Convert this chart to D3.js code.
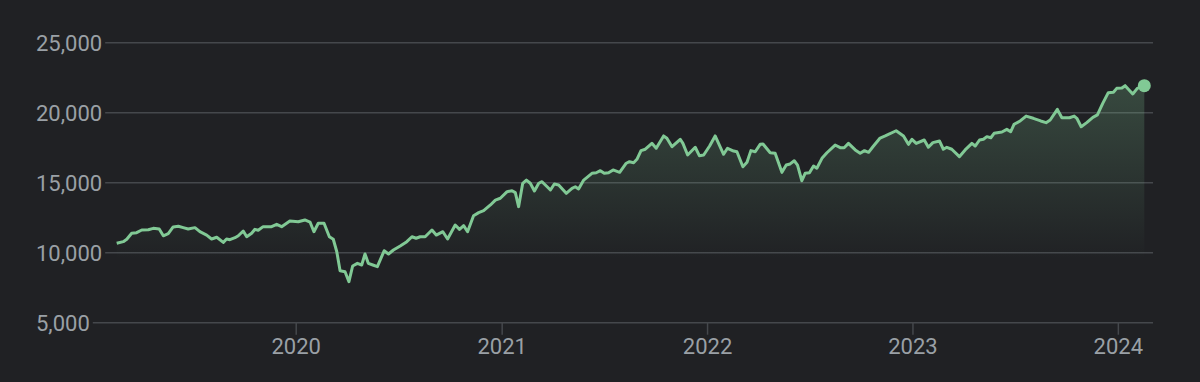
<!DOCTYPE html>
<html>
<head>
<meta charset="utf-8">
<script src="https://cdn.jsdelivr.net/npm/d3@7"></script>
<style>
  html, body { margin: 0; padding: 0; background: #202124; }
  svg { display: block; }
  text { font-family: Roboto, "Noto Sans", sans-serif; }
</style>
</head>
<body>
<div class="chart"></div>
<script>
// chart size
var width = 1200;
var height = 382;

// data: time as decimal year, index value
var years = [
  2019.126, 2019.158, 2019.175, 2019.199, 2019.223, 2019.248, 2019.280, 2019.304, 2019.333, 2019.353,
  2019.377, 2019.401, 2019.426, 2019.450, 2019.474, 2019.507, 2019.531, 2019.564, 2019.588, 2019.613,
  2019.645, 2019.661, 2019.677, 2019.702, 2019.718, 2019.742, 2019.759, 2019.783, 2019.799, 2019.815,
  2019.839, 2019.880, 2019.905, 2019.929, 2019.969, 2020.010, 2020.042, 2020.067, 2020.086, 2020.107,
  2020.135, 2020.161, 2020.180, 2020.197, 2020.213, 2020.237, 2020.256, 2020.274, 2020.297, 2020.318,
  2020.334, 2020.350, 2020.372, 2020.394, 2020.427, 2020.448, 2020.472, 2020.505, 2020.537, 2020.562,
  2020.582, 2020.602, 2020.626, 2020.659, 2020.680, 2020.712, 2020.735, 2020.772, 2020.793, 2020.813,
  2020.832, 2020.861, 2020.886, 2020.910, 2020.943, 2020.967, 2020.991, 2021.024, 2021.048, 2021.064,
  2021.080, 2021.100, 2021.118, 2021.137, 2021.157, 2021.178, 2021.194, 2021.219, 2021.235, 2021.254,
  2021.275, 2021.312, 2021.340, 2021.356, 2021.372, 2021.397, 2021.437, 2021.458, 2021.478, 2021.497,
  2021.518, 2021.540, 2021.572, 2021.604, 2021.620, 2021.640, 2021.656, 2021.676, 2021.697, 2021.729,
  2021.750, 2021.786, 2021.802, 2021.827, 2021.867, 2021.880, 2021.903, 2021.940, 2021.960, 2021.981,
  2022.010, 2022.037, 2022.078, 2022.097, 2022.127, 2022.143, 2022.172, 2022.192, 2022.211, 2022.232,
  2022.256, 2022.270, 2022.305, 2022.329, 2022.362, 2022.383, 2022.402, 2022.422, 2022.438, 2022.459,
  2022.475, 2022.496, 2022.516, 2022.532, 2022.557, 2022.581, 2022.621, 2022.646, 2022.665, 2022.686,
  2022.719, 2022.743, 2022.764, 2022.784, 2022.805, 2022.840, 2022.865, 2022.918, 2022.954, 2022.978,
  2022.995, 2023.016, 2023.055, 2023.075, 2023.097, 2023.129, 2023.148, 2023.165, 2023.189, 2023.226,
  2023.254, 2023.287, 2023.303, 2023.324, 2023.343, 2023.360, 2023.379, 2023.395, 2023.433, 2023.457,
  2023.476, 2023.492, 2023.522, 2023.551, 2023.586, 2023.622, 2023.648, 2023.668, 2023.703, 2023.725,
  2023.762, 2023.785, 2023.798, 2023.819, 2023.846, 2023.876, 2023.898, 2023.924, 2023.951, 2023.976,
  2023.992, 2024.017, 2024.033, 2024.070, 2024.092, 2024.126
];
var values = [
  10670, 10790, 10960, 11390, 11430, 11620, 11640, 11740, 11690, 11210,
  11360, 11840, 11890, 11790, 11690, 11790, 11500, 11260, 10980, 11100,
  10740, 10980, 10930, 11070, 11210, 11550, 11140, 11390, 11670, 11600,
  11860, 11860, 12030, 11860, 12260, 12210, 12340, 12190, 11500, 12100,
  12100, 11140, 10960, 10070, 8710, 8640, 7930, 9050, 9240, 9120,
  9910, 9240, 9120, 9000, 10140, 9910, 10190, 10480, 10790, 11140,
  11030, 11140, 11140, 11620, 11260, 11500, 10980, 11980, 11670, 11930,
  11500, 12640, 12860, 13000, 13410, 13760, 13890, 14360, 14430, 14290,
  13290, 14960, 15190, 14960, 14410, 14960, 15070, 14710, 14480, 14910,
  14840, 14240, 14600, 14710, 14550, 15190, 15670, 15710, 15860, 15670,
  15710, 15910, 15740, 16390, 16500, 16430, 16670, 17290, 17390, 17810,
  17460, 18340, 18170, 17570, 18100, 17810, 16980, 17530, 16930, 16980,
  17620, 18340, 17030, 17460, 17260, 17210, 16140, 16460, 17290, 17210,
  17740, 17760, 17140, 17100, 15740, 16260, 16340, 16570, 16260, 15140,
  15670, 15710, 16190, 16030, 16740, 17140, 17690, 17500, 17500, 17810,
  17340, 17100, 17290, 17170, 17570, 18190, 18340, 18710, 18340, 17740,
  18100, 17810, 18050, 17530, 17860, 17980, 17390, 17530, 17390, 16860,
  17340, 17810, 17620, 18050, 18100, 18290, 18210, 18530, 18620, 18810,
  18640, 19170, 19410, 19760, 19600, 19410, 19290, 19480, 20240, 19640,
  19640, 19760, 19600, 19000, 19290, 19670, 19840, 20670, 21430, 21460,
  21740, 21760, 21930, 21340, 21740, 21930
];
var yTicks = [5000, 10000, 15000, 20000, 25000];
var xTicks = ["2020", "2021", "2022", "2023", "2024"];

// decimal year -> Date
function toDate(t) {
  var yr = Math.floor(t);
  var a = Date.UTC(yr, 0, 1), b = Date.UTC(yr + 1, 0, 1);
  return new Date(a + (t - yr) * (b - a));
}

var data = years.map(function (t, i) { return { date: toDate(t), value: values[i] }; });

const svg = d3.select(".chart")
  .append("svg")
  .attr("width", width)
  .attr("height", height);

svg.append("rect")
  .attr("width", width)
  .attr("height", height)
  .attr("fill", "#202124");

var x = d3.scaleUtc()
  .domain([data[0].date, data[data.length - 1].date])
  .range([116.7, 1144.3]);

var y = d3.scaleLinear()
  .domain([5000, 25000])
  .range([322.7, 42.7]);

var gridRight = 1153;
var fmt = d3.format(",");

// y labels + gridlines (gridline starts right after its label)
var yg = svg.append("g").attr("class", "y-grid");
yTicks.forEach(function (v) {
  var t = yg.append("text")
    .attr("x", 36)
    .attr("y", y(v) + 8.5)
    .attr("fill", "#9aa0a6")
    .style("font-size", "22px")
    .text(fmt(v));
  var w = t.node().getComputedTextLength();
  yg.append("line")
    .attr("x1", 36 + w + 3)
    .attr("x2", gridRight)
    .attr("y1", y(v))
    .attr("y2", y(v))
    .attr("stroke", "#45484c")
    .attr("stroke-width", 1.5);
});

// x ticks and labels
var xg = svg.append("g").attr("class", "x-axis");
xTicks.forEach(function (s) {
  var px = x(new Date(Date.UTC(+s, 0, 1)));
  xg.append("line")
    .attr("x1", px).attr("x2", px)
    .attr("y1", y(5000)).attr("y2", y(5000) + 12)
    .attr("stroke", "#45484c")
    .attr("stroke-width", 1.5);
  xg.append("text")
    .attr("x", px)
    .attr("y", 354)
    .attr("text-anchor", "middle")
    .attr("fill", "#9aa0a6")
    .style("font-size", "22px")
    .text(s);
});

// area gradient
var defs = svg.append("defs");
var grad = defs.append("linearGradient")
  .attr("id", "fillGrad")
  .attr("gradientUnits", "userSpaceOnUse")
  .attr("x1", 0).attr("x2", 0)
  .attr("y1", y(22000)).attr("y2", y(9500));
grad.append("stop").attr("offset", "0%").attr("stop-color", "#81c995").attr("stop-opacity", 0.24);
grad.append("stop").attr("offset", "100%").attr("stop-color", "#81c995").attr("stop-opacity", 0);

var area = d3.area()
  .x(d => x(d.date))
  .y0(y(5000))
  .y1(d => y(d.value));

svg.append("path")
  .datum(data)
  .attr("d", area)
  .attr("fill", "url(#fillGrad)");

var line = d3.line()
  .x(d => x(d.date))
  .y(d => y(d.value));

svg.append("path")
  .datum(data)
  .attr("d", line)
  .attr("fill", "none")
  .attr("stroke", "#81c995")
  .attr("stroke-width", 3)
  .attr("stroke-linejoin", "round");

var last = data[data.length - 1];
svg.append("circle")
  .attr("cx", x(last.date))
  .attr("cy", y(last.value))
  .attr("r", 6.5)
  .attr("fill", "#81c995");
</script>
</body>
</html>
